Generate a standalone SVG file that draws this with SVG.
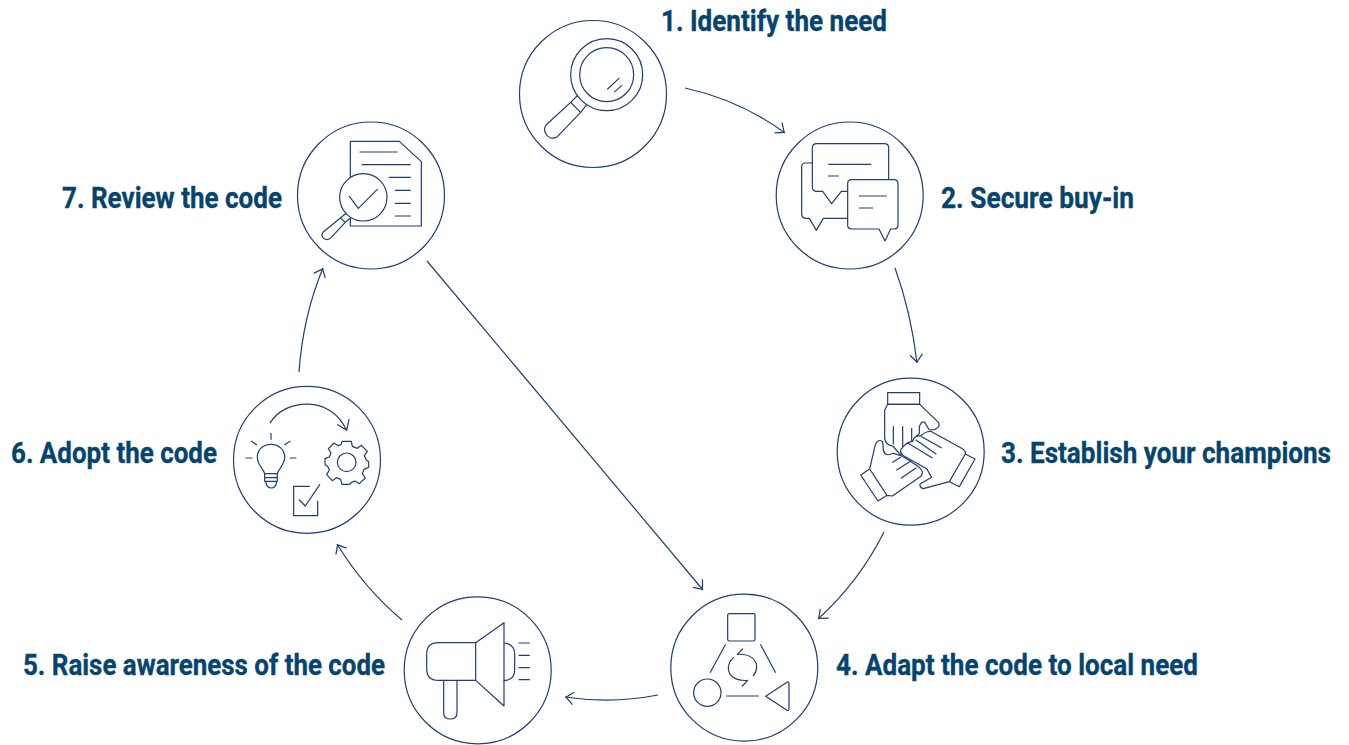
<svg xmlns="http://www.w3.org/2000/svg" width="1349" height="745" viewBox="0 0 1349 745">
<style>
.bg{fill:#fff}
.ring{fill:#fff;stroke:#1f3f70;stroke-width:1.2}
.i{fill:none;stroke:#1f3f70;stroke-width:3.600;stroke-linecap:round;stroke-linejoin:round}
.f{fill:#fff}
.c{fill:none;stroke:#1f3f70;stroke-width:1.2;marker-end:url(#a)}
.t{font-family:"Roboto","Liberation Sans",sans-serif;font-weight:700;font-size:30px;fill:#04446f;stroke:#04446f;stroke-width:.35}
</style>
<defs>
<marker id="a" markerUnits="userSpaceOnUse" markerWidth="16" markerHeight="16" refX="12" refY="8" orient="auto">
<path d="M3.500 1.500L11 8L3.500 14" fill="none" stroke="#1f3f70" stroke-width="1.2"/>
</marker>
</defs>
<rect class="bg" width="1349" height="745"/>
<g id="connectors">
<path class="c" d="M685 88Q740 100 785 133"/>
<path class="c" d="M895 268Q911 312 917 363"/>
<path class="c" d="M884 532Q859 582 818 619"/>
<path class="c" d="M658 695Q612 704 565 697"/>
<path class="c" d="M402 620Q364 588 337 544"/>
<path class="c" d="M299 372Q303 316 323 268"/>
<path class="c" d="M427 261L703 590"/>
</g>
<g id="node-1">
<circle class="ring" cx="593" cy="94" r="73.500"/>
<g transform="translate(510 10) scale(.33333)">
<circle class="i" cx="290" cy="194" r="108"/>
<circle class="i" cx="290" cy="194" r="81"/>
<path class="i" d="M293 237L327 205M314 245L335 227"/>
<path class="i" d="M201 258L182 277L212 307L230 284M182 277L108 345Q99 358 108 372Q122 392 142 380L212 307"/>
</g>
<text class="t" transform="translate(661 31) scale(.88 1)" textLength="256.800" lengthAdjust="spacingAndGlyphs">1. Identify the need</text>
</g>
<g id="node-2">
<circle class="ring" cx="849.700" cy="195.500" r="73.500"/>
<g transform="translate(770 115) scale(.33333)">
<path class="i" d="M127 144H107Q95 144 95 156V296Q95 310 109 310H118L139 346L160 310H233"/>
<path class="i" d="M356 193V99Q356 86 343 86H140Q127 86 127 99V216Q127 229 140 229H158L185 266L214 229H233"/>
<path class="i" d="M245 194H372Q384 194 384 206V331Q384 342 372 342H362L345 378L327 342H245Q233 342 233 331V206Q233 194 245 194Z"/>
<path class="i" d="M176 148H303M176 183H205M268 243H349M268 279H308"/>
</g>
<text class="t" transform="translate(941 208) scale(.88 1)" textLength="219.300" lengthAdjust="spacingAndGlyphs">2. Secure buy-in</text>
</g>
<g id="node-3">
<circle class="ring" cx="910.700" cy="451.700" r="73.500"/>
<g transform="translate(830 370) scale(.33333)">
<path class="i" d="M173 68H269V103H173Z"/>
<path class="i f" d="M173 103L164 120V205Q166 224 188 228L212 255L268 190V170Q274 152 284 157L298 180L315 178Q332 170 326 158L269 103Z"/>
<path class="i" d="M190 170V222M218 170V240M245 175V212"/>
<path class="i f" d="M92 315L144 393L171 376L119 297ZM119 297L136 224Q144 205 158 215L160 240Q165 262 190 250L215 258L232 268L268 292Q282 305 274 318L187 378L171 376Z"/>
<path class="i" d="M188 277L212 262M200 300L244 272M214 324L258 294"/>
<path class="i f" d="M212 240Q228 215 248 214Q252 196 272 198Q288 182 305 185L400 238Q408 245 406 252L358 335L280 356Q268 352 270 342L305 322L290 296L222 258Q210 250 212 240Z"/>
<path class="i" d="M406 252L435 267L388 350L358 335M232 218L306 263M258 210L318 252M275 200L334 233"/>
</g>
<text class="t" transform="translate(1001 463) scale(.88 1)" textLength="375" lengthAdjust="spacingAndGlyphs">3. Establish your champions</text>
</g>
<g id="node-4">
<circle class="ring" cx="744.300" cy="667.700" r="73.500"/>
<g transform="translate(665 585) scale(.33333)">
<rect class="i" x="188" y="86" width="82" height="82" rx="5"/>
<path class="i" d="M181 179L136 262M287 179L331 262M185 333H280"/>
<circle class="i" cx="127" cy="323" r="41"/>
<path class="i" d="M302 334L367 291Q372 290 372 296V372Q372 378 366 376Z"/>
<path class="i" d="M233 192L217 208C255 205 275 225 275 245Q275 260 265 272M232 303L248 286C210 290 190 270 190 250Q190 232 205 218"/>
</g>
<text class="t" transform="translate(836 675) scale(.88 1)" textLength="411.400" lengthAdjust="spacingAndGlyphs">4. Adapt the code to local need</text>
</g>
<g id="node-5">
<circle class="ring" cx="477.700" cy="670.300" r="73.500"/>
<g transform="translate(400 590) scale(.33333)">
<path class="i" d="M227 158H115Q80 158 80 193V236Q80 271 115 271H227Z"/>
<path class="i" d="M227 158L312 98V348L227 271"/>
<path class="i" d="M312 159Q344 162 344 192V240Q344 270 312 272M357 159H388M357 196H388M357 233H388M357 269H388"/>
<path class="i" d="M131 271V368Q131 387 151 387Q171 387 171 368V271"/>
</g>
<text class="t" transform="translate(23 675) scale(.88 1)" textLength="411.400" lengthAdjust="spacingAndGlyphs">5. Raise awareness of the code</text>
</g>
<g id="node-6">
<circle class="ring" cx="307" cy="459.800" r="73.500"/>
<g transform="translate(228 380) scale(.33333)">
<path class="i" d="M127 128C170 55 310 45 355 150M329 134L356 151L363 118"/>
<path class="i" d="M129 160V178M70 184L86 194M186 184L170 194M54 234H72M186 234H204"/>
<path class="i" d="M110 281C104 262 88 255 88 232C88 208 106 193 129 193C152 193 170 208 170 232C170 255 154 262 148 281ZM110 281V304H148V281M110 293H148M113 304Q116 324 130 324Q144 324 146 304"/>
<circle class="i" cx="356" cy="247" r="28"/>
<path class="i" d="M342 184H370L373 199L388 205L400 196L418 214L409 227L415 240L422 245V262L408 268L403 281L412 294L394 311L381 303L369 308L365 313H342L338 298L325 293L313 302L296 284L304 270L299 259L291 254V236L304 231L309 219L301 206L318 189L331 197L339 194Z"/>
<path class="i" d="M244 319H197V407H269V363M214 360L232 378L275 314"/>
</g>
<text class="t" transform="translate(11 463) scale(.88 1)" textLength="234.100" lengthAdjust="spacingAndGlyphs">6. Adopt the code</text>
</g>
<g id="node-7">
<circle class="ring" cx="371" cy="195.500" r="73.500"/>
<g transform="translate(292 115) scale(.33333)">
<path class="i" d="M175 195V79H322L388 140V333H175V310"/>
<path class="i" d="M204 111H315M210 149H355M292 187H355M310 226H355M310 265H355M310 303H355"/>
<circle class="i f" cx="214" cy="247" r="71"/>
<path class="i" d="M172 244L199 280L256 223"/>
<path class="i" d="M162 295L145 309L160 322L175 310M145 309L93 352Q86 362 95 370Q105 378 115 370L160 322"/>
</g>
<text class="t" transform="translate(62 208) scale(.88 1)" textLength="250" lengthAdjust="spacingAndGlyphs">7. Review the code</text>
</g>
</svg>
